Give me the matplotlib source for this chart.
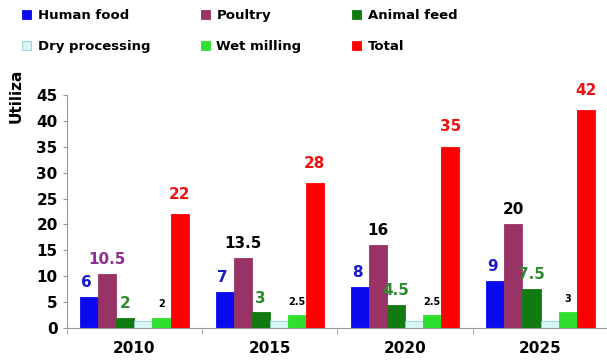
import matplotlib.pyplot as plt
import numpy as np

years = ['2010', '2015', '2020', '2025']
series = ['Human food', 'Poultry', 'Animal feed', 'Dry processing', 'Wet milling', 'Total']
human_food = [6, 7, 8, 9]
poultry = [10.5, 13.5, 16, 20]
animal_feed = [2, 3, 4.5, 7.5]
dry_processing = [1.3, 1.3, 1.3, 1.3]
wet_milling = [2, 2.5, 2.5, 3]
total = [22, 28, 35, 42]

values = [human_food, poultry, animal_feed, dry_processing, wet_milling, total]
colors = ['#0a0aee', '#993366', '#117a11', '#d8f6f6', '#2ee02e', '#ff0000']
edges = ['#0a0aee', '#993366', '#117a11', '#8fcfcf', '#2ee02e', '#ff0000']
label_colors = [['#1a1acc'] * 4,
                ['#8e2e8e', 'black', 'black', 'black'],
                ['#2e8b2e'] * 4,
                None,
                ['black'] * 4,
                ['#ee1111'] * 4]

fig = plt.figure(figsize=(6.07, 3.63), dpi=100)
ax = fig.add_axes([0.110, 0.0964, 0.892, 0.642])

x = np.arange(len(years))
w = 0.8 / 6
bars = []
for i, (name, vals) in enumerate(zip(series, values)):
    pos = x - 0.4 + w * (i + 0.5)
    b = ax.bar(pos, vals, w, color=colors[i], edgecolor=edges[i], linewidth=0.6, label=name)
    bars.append(b)
    if label_colors[i] is None:
        continue
    for j, v in enumerate(vals):
        txt = '%g' % v
        if i == 4:
            ax.annotate(txt, (pos[j], v), xytext=(0, 6), textcoords='offset points',
                        ha='center', va='bottom', fontsize=7, fontweight='bold',
                        color=label_colors[i][j])
        elif i == 5:
            ax.annotate(txt, (pos[j], v), xytext=(0, 9), textcoords='offset points',
                        ha='center', va='bottom', fontsize=11, fontweight='bold',
                        color=label_colors[i][j])
        else:
            dx = -2 if i == 0 else 0
            ax.annotate(txt, (pos[j], v), xytext=(dx, 5), textcoords='offset points',
                        ha='center', va='bottom', fontsize=11, fontweight='bold',
                        color=label_colors[i][j])

ax.set_xlim(-0.5, 3.5)
ax.set_ylim(0, 45)
ax.set_yticks(range(0, 46, 5))
ax.set_xticks(x)
ax.set_xticklabels(years, fontsize=11, fontweight='bold')
ax.set_xticks(np.arange(-0.5, 3.6, 1), minor=True)
ax.tick_params(axis='x', which='major', length=0, pad=9)
ax.tick_params(axis='x', which='minor', length=4, color='#999999')
ax.tick_params(axis='y', length=3, color='#999999', labelsize=11)
for t in ax.get_yticklabels():
    t.set_fontweight('bold')
ax.spines['top'].set_visible(False)
ax.spines['right'].set_visible(False)
ax.spines['left'].set_color('#999999')
ax.spines['bottom'].set_color('#999999')

fig.text(0.026, 0.661, 'Utiliza', rotation=90, fontsize=11, fontweight='bold',
         ha='center', va='bottom')

# legend fills row-wise in the reference
order = [0, 3, 1, 4, 2, 5]
fig.legend([bars[k] for k in order], [series[k] for k in order],
           loc='upper left', bbox_to_anchor=(0.017, 1.007), ncol=3, frameon=False,
           prop={'weight': 'bold', 'size': 9.5}, handlelength=0.7, handleheight=0.7,
           handletextpad=0.5, columnspacing=3.8, labelspacing=1.35)

fig.savefig('out.png', dpi=100)
